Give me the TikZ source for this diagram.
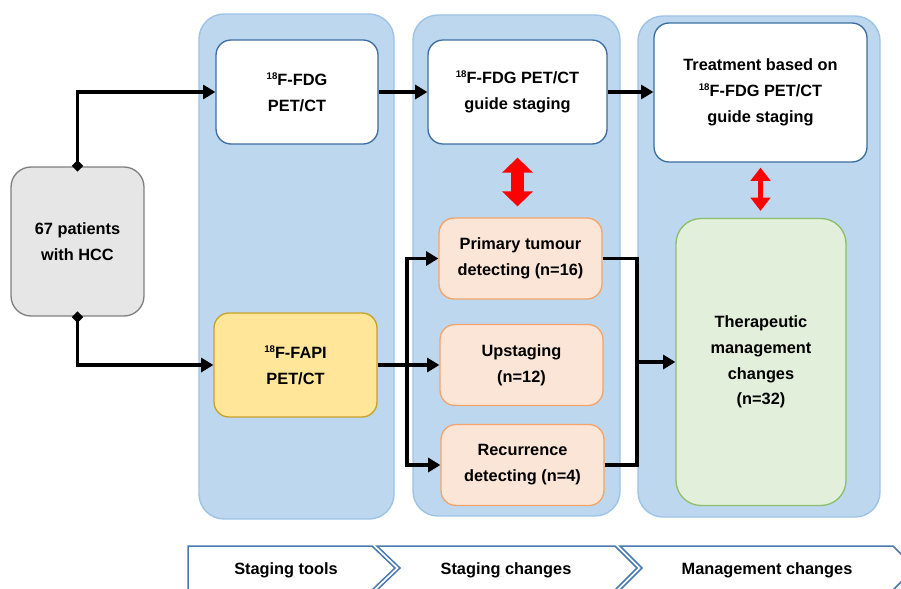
\documentclass[tikz,border=0pt]{standalone}
\usepackage{fontspec}
\setmainfont{Liberation Sans}
\usepackage{tikz}
\usetikzlibrary{positioning,arrows.meta,calc}

\definecolor{panelfill}{HTML}{BDD7EE}
\definecolor{paneldraw}{HTML}{9DC3E6}
\definecolor{boxdraw}{HTML}{3B6E9E}
\definecolor{orangefill}{HTML}{FBE5D6}
\definecolor{orangedraw}{HTML}{F4A46A}
\definecolor{greenfill}{HTML}{E2EFDA}
\definecolor{greendraw}{HTML}{8CBF6A}
\definecolor{yellowfill}{HTML}{FFE699}
\definecolor{yellowdraw}{HTML}{C9A227}
\definecolor{grayfill}{HTML}{E6E6E6}
\definecolor{graydraw}{HTML}{7F7F7F}
\definecolor{chevdraw}{HTML}{4A7AB0}

\newcommand{\isotope}[1]{\raisebox{0.75ex}{\fontsize{5.5}{6}\selectfont #1}}

\tikzset{
	panel/.style={fill=panelfill,draw=paneldraw,line width=0.8pt,rounded corners=0.5cm},
	box/.style={draw,rounded corners=0.3cm,line width=0.75pt,align=center,inner sep=0pt,font=\fontsize{9.3}{14.7}\selectfont\bfseries},
	whitebox/.style={box,fill=white,draw=boxdraw},
	orangebox/.style={box,fill=orangefill,draw=orangedraw,minimum width=3.26cm,minimum height=1.62cm},
	yellowbox/.style={box,fill=yellowfill,draw=yellowdraw},
	greenbox/.style={box,fill=greenfill,draw=greendraw,rounded corners=0.5cm},
	graybox/.style={box,fill=grayfill,draw=graydraw,rounded corners=0.4cm},
	link/.style={line width=2.2pt},
	flow/.style={link,-{Triangle[length=7pt,width=8pt]}},
	diamflow/.style={link,{Diamond[length=6.5pt,width=6.5pt]}-{Triangle[length=7pt,width=8pt]},shorten <=-3pt},
	bigred/.style={red,line width=7.4pt,{Triangle[length=8.5pt,width=17pt]}-{Triangle[length=8.5pt,width=17pt]}},
	smallred/.style={red,line width=3.2pt,{Triangle[length=7.5pt,width=11pt]}-{Triangle[length=7.5pt,width=11pt]}},
	chevron/.style={draw=chevdraw,line width=0.85pt,fill=white},
	phasetext/.style={font=\fontsize{9.3}{11}\selectfont\bfseries}
}

\begin{document}
\begin{tikzpicture}[x=0.02cm,y=-0.02cm]
	\useasboundingbox (0,0) rectangle (901,588);
	\clip (0,0) rectangle (901,588);
	\filldraw[panel] (199,14) rectangle (394,519);
	\filldraw[panel] (413,15) rectangle (620,516);
	\filldraw[panel] (638,16) rectangle (880,517);
	\node[graybox,minimum width=2.66cm,minimum height=2.98cm] (patients) at (77.5,241.5) {67 patients\\with HCC};
	\node[whitebox,minimum width=3.24cm,minimum height=2.08cm] (fdg) at (297,92) {\isotope{18}F-FDG\\PET/CT};
	\node[yellowbox,minimum width=3.26cm,minimum height=2.08cm] (fapi) at (295.5,365) {\isotope{18}F-FAPI\\PET/CT};
	\node[whitebox,minimum width=3.58cm,minimum height=2.08cm] (guide) at (517.5,92) {\isotope{18}F-FDG PET/CT\\guide staging};
	\node[whitebox,minimum width=4.26cm,minimum height=2.78cm] (treat) at (760.5,92.5) {Treatment based on\\\isotope{18}F-FDG PET/CT\\guide staging};
	\node[orangebox] (primary) at (520.5,258.5) {Primary tumour\\detecting (n=16)};
	\node[orangebox] (upstage) at (521.5,365) {Upstaging\\(n=12)};
	\node[orangebox] (recur) at (522.5,465) {Recurrence\\detecting (n=4)};
	\node[greenbox,minimum width=3.4cm,minimum height=5.74cm] (thera) at (761,362) {Therapeutic\\management\\changes\\(n=32)};
	\coordinate (split) at (407,365);
	\coordinate (merge) at (637,362);
	\draw[diamflow] (patients.north) |- (fdg.west);
	\draw[diamflow] (patients.south) |- (fapi.west);
	\draw[flow] (fdg.east) -- (guide.west);
	\draw[flow] (guide.east) -- (guide.east -| treat.west);
	\draw[flow] (fapi.east) -- (upstage.west);
	\draw[flow] (split) |- (primary.west);
	\draw[flow] (split) |- (recur.west);
	\draw[link] (primary.east) -| (merge);
	\draw[link] (recur.east) -| (merge);
	\draw[flow] (merge) -- (thera.west);
	\draw[bigred,shorten <=0.26cm,shorten >=0.22cm] (guide.south) -- (guide.south |- primary.north);
	\draw[smallred,shorten <=0.1cm,shorten >=0.14cm] (treat.south) -- (treat.south |- thera.north);
	\draw[chevron] (188,546) -- (372,546) -- (395,568) -- (372,590) -- (188,590) -- cycle;
	\draw[chevron] (377,546) -- (615,546) -- (637,568) -- (615,590) -- (377,590) -- (400,568) -- cycle;
	\draw[chevron] (620,546) -- (893,546) -- (915,568) -- (893,590) -- (620,590) -- (642,568) -- cycle;
	\node[phasetext] (tools) at (286,570) {Staging tools};
	\node[phasetext] (stagech) at (506,570) {Staging changes};
	\node[phasetext] (managech) at (767,570) {Management changes};
\end{tikzpicture}
\end{document}
